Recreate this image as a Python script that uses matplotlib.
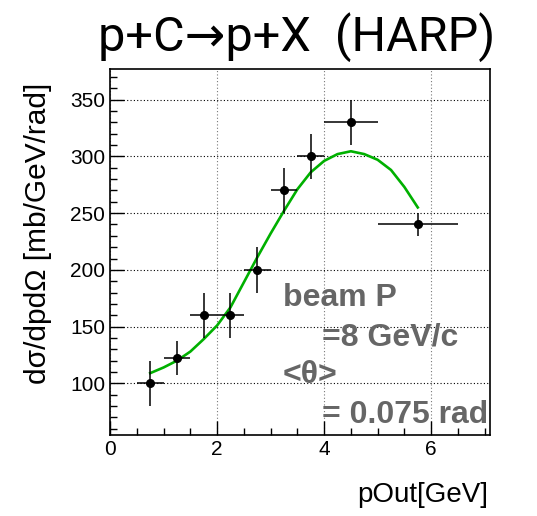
import numpy as np
import matplotlib
matplotlib.use("Agg")
import matplotlib.pyplot as plt
from matplotlib.ticker import MultipleLocator

plt.rcParams['font.family'] = ['Liberation Sans', 'DejaVu Sans']

# data points (HARP)
p_out = [0.75, 1.25, 1.75, 2.25, 2.75, 3.25, 3.75, 4.5, 5.75]
p_err = [0.25, 0.25, 0.25, 0.25, 0.25, 0.25, 0.25, 0.5, 0.75]
xsec = [100, 122, 160, 160, 200, 270, 300, 330, 240]
xsec_err = [20, 15, 20, 20, 20, 20, 20, 20, 10]

# model curve
curve_p = [0.75, 1.0, 1.25, 1.5, 1.75, 2.0, 2.25, 2.5, 2.75, 3.0, 3.25,
           3.5, 3.75, 4.0, 4.25, 4.5, 4.75, 5.0, 5.25, 5.5, 5.75]
curve_xsec = [109, 114, 120, 128, 139, 151, 167, 189, 211, 232, 252,
              271, 286, 296, 302, 304.5, 302, 297, 288, 273, 255]

fig = plt.figure(figsize=(5.37, 5.16), dpi=100)
ax = fig.add_axes([0.205, 0.157, 0.7075, 0.7093])

ax.plot(curve_p, curve_xsec, color='#00b000', lw=1.9, zorder=2)
ax.errorbar(p_out, xsec, xerr=p_err, yerr=xsec_err, fmt='o', color='black',
            ms=5.5, elinewidth=1.1, capsize=0, zorder=3)

ax.set_xlim(0, 7.1)
ax.set_ylim(54.5, 377)
ax.xaxis.set_major_locator(MultipleLocator(2))
ax.xaxis.set_minor_locator(MultipleLocator(0.5))
ax.yaxis.set_minor_locator(MultipleLocator(10))
ax.set_yticks([100, 150, 200, 250, 300, 350])
ax.tick_params(which='both', direction='in', top=False, right=False, labelsize=15)
ax.tick_params(which='major', length=10, width=1)
ax.tick_params(which='minor', length=5, width=1)
ax.grid(True, which='major', color='black', linestyle=(0, (1, 2)), lw=0.8)
ax.grid(True, which='major', axis='x', color='#777777', linestyle=(0, (1, 2)), lw=0.8)
for s in ax.spines.values():
    s.set_linewidth(1.2)

# axis titles placed like the ROOT canvas
fig.text(0.071, 0.548, 'dσ/dpdΩ [mb/GeV/rad]', fontsize=21.5, rotation=90,
         ha='center', va='center')
fig.text(0.909, 0.04, 'pOut[GeV]', fontsize=20, ha='right', va='center')
fig.text(0.553, 0.928, 'p+C\u2192p+X  (HARP)', fontsize=35, ha='center', va='center',
         family=['Roboto', 'DejaVu Sans'])

txt = dict(fontsize=23, fontweight='bold', color='#666666', zorder=4)
ax.text(3.23, 168, 'beam P', **txt)
ax.text(3.96, 133, '=8 GeV/c', **txt)
ax.text(3.23, 100, '<θ>', **txt)
ax.text(3.96, 65, '= 0.075 rad', **txt)

fig.savefig('out.png', dpi=100)
